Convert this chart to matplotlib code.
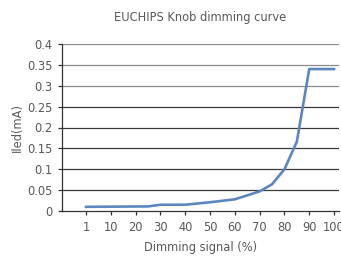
import matplotlib
matplotlib.use("Agg")
import matplotlib.pyplot as plt

# Category tick labels (evenly spaced on the axis)
tick_labels = ["1", "10", "20", "30", "40", "50", "60", "70", "80", "90", "100"]
# Dimming signal (%) of each curve point, and its position among the categories
signal = [1, 25, 30, 40, 50, 60, 70, 75, 80, 85, 90, 100]
led_current = [0.010, 0.011, 0.015, 0.015, 0.021, 0.028, 0.047, 0.064, 0.100, 0.166, 0.340, 0.340]
y_ticks = [0, 0.05, 0.1, 0.15, 0.2, 0.25, 0.3, 0.35, 0.4]
y_tick_labels = ["0", "0.05", "0.1", "0.15", "0.2", "0.25", "0.3", "0.35", "0.4"]


def cat_pos(v):
    # position on the category axis: "1" is slot 0, then 10 per slot
    return 0.0 if v <= 1 else v / 10.0


plt.rcParams['font.family'] = ['DejaVu Sans']
txt = '#595959'
font = dict(family='DejaVu Sans', stretch='condensed')
fs = 9.2

fig = plt.figure(figsize=(3.41, 2.61), dpi=100)
ax = fig.add_axes([62 / 341, 1 - 211 / 261, (339 - 62) / 341, (211 - 44) / 261])

for yv in y_ticks[1:]:
    col = '#8a8a8a' if yv >= 0.3 else '#3a3a3a'
    ax.axhline(yv, color=col, lw=0.9, zorder=1)

ax.plot([cat_pos(v) for v in signal], led_current, color='#5b87c0', lw=1.9,
        zorder=3, solid_joinstyle='round')

ax.set_xlim(-0.97, 10.2)
ax.set_ylim(0, 0.4)
ax.set_xticks(range(len(tick_labels)))
ax.set_xticklabels(tick_labels, fontsize=fs, color=txt, **font)
ax.set_yticks(y_ticks)
ax.set_yticklabels(y_tick_labels, fontsize=fs, color=txt, **font)
ax.tick_params(axis='both', direction='out', length=3, width=0.9, color='#333333', pad=4)

for s in ['top', 'right']:
    ax.spines[s].set_visible(False)
for s in ['left', 'bottom']:
    ax.spines[s].set_color('#333333')
    ax.spines[s].set_linewidth(0.9)

ax.set_xlabel('Dimming signal (%)', fontsize=fs, color=txt, labelpad=5, **font)
ax.set_ylabel('Iled(mA)', fontsize=fs, color=txt, labelpad=2, **font)
fig.text(200 / 341, 1 - 18 / 261, 'EUCHIPS Knob dimming curve', ha='center', va='center',
         fontsize=fs, color=txt, **font)

fig.savefig('out.png', dpi=100)
